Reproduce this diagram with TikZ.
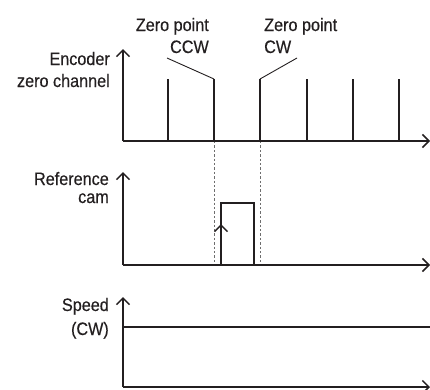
\documentclass[tikz,border=0pt]{standalone}
\usepackage{fontspec}
\setmainfont{Liberation Sans}[FakeStretch=0.9,FakeBold=0.4]
\usetikzlibrary{arrows.meta}
\definecolor{ink}{HTML}{231F20}
\definecolor{dashgray}{HTML}{6E6E6E}
\tikzset{
  lbl/.style={inner sep=0pt, text=ink, font=\fontsize{18}{20}\selectfont},
  tipbarb/.style={-{Straight Barb[length=6.5pt,width=13pt,line width=1.5pt]}},
  axis/.style={draw=ink, line width=1.3pt, tipbarb},
  sig/.style={draw=ink, line width=1.2pt},
  guide/.style={draw=dashgray, line width=1pt, dash pattern=on 2.4pt off 2pt},
  leader/.style={draw=ink, line width=0.9pt}
}
\begin{document}
\begin{tikzpicture}[x=1pt,y=-1pt]
\useasboundingbox (0,0) rectangle (430,389);
% labels
\node[lbl, anchor=base east] (enc1) at (110,65) {Encoder};
\node[lbl, anchor=base east] (enc2) at (110,87) {zero channel};
\node[lbl, anchor=base east] (zccw1) at (209,31) {Zero point};
\node[lbl, anchor=base east] (zccw2) at (209,53) {CCW};
\node[lbl, anchor=base west] (zcw1) at (264,31) {Zero point};
\node[lbl, anchor=base west] (zcw2) at (264,53) {CW};
\node[lbl, anchor=base east] (ref1) at (109,185) {Reference};
\node[lbl, anchor=base east] (ref2) at (109,203) {cam};
\node[lbl, anchor=base east] (spd1) at (109,311) {Speed};
\node[lbl, anchor=base east] (spd2) at (109,335) {(CW)};
% coordinates
\coordinate (o1) at (123,141);
\coordinate (y1) at (123,49);
\coordinate (x1) at (430,141);
\coordinate (o2) at (123,265);
\coordinate (y2) at (123,172);
\coordinate (x2) at (430,265);
\coordinate (o3) at (123,387);
\coordinate (y3) at (123,297);
\coordinate (x3) at (430,387);
% dashed guides
\coordinate (gA1) at (214,141); \coordinate (gA2) at (214,265);
\coordinate (gB1) at (260,141); \coordinate (gB2) at (260,265);
\draw[guide] (gA1) -- (gA2);
\draw[guide] (gB1) -- (gB2);
% axes
\draw[axis] (o1) -- (y1);
\draw[axis] (o1) -- (x1);
\draw[axis] (o2) -- (y2);
\draw[axis] (o2) -- (x2);
\draw[axis] (o3) -- (y3);
\draw[axis] (o3) -- (x3);
% encoder pulses
\foreach \px in {168,214,260,307,353,399}{
  \draw[sig] (\px,141) -- (\px,79);
}
% leaders
\coordinate (lccw) at (167,58); \coordinate (pccw) at (214,79);
\coordinate (lcw) at (297,58); \coordinate (pcw) at (260,79);
\draw[leader] (lccw) -- (pccw);
\draw[leader] (lcw) -- (pcw);
% reference cam
\coordinate (c1) at (221,265); \coordinate (c2) at (221,203);
\coordinate (c3) at (254,203); \coordinate (c4) at (254,265);
\draw[sig] (c1) -- (c2) -- (c3) -- (c4);
\coordinate (camtip) at (221,224);
\draw[sig, tipbarb] (c1) -- (camtip);
% speed
\coordinate (s1) at (123,327); \coordinate (s2) at (430,327);
\draw[sig] (s1) -- (s2);
\end{tikzpicture}
\end{document}
